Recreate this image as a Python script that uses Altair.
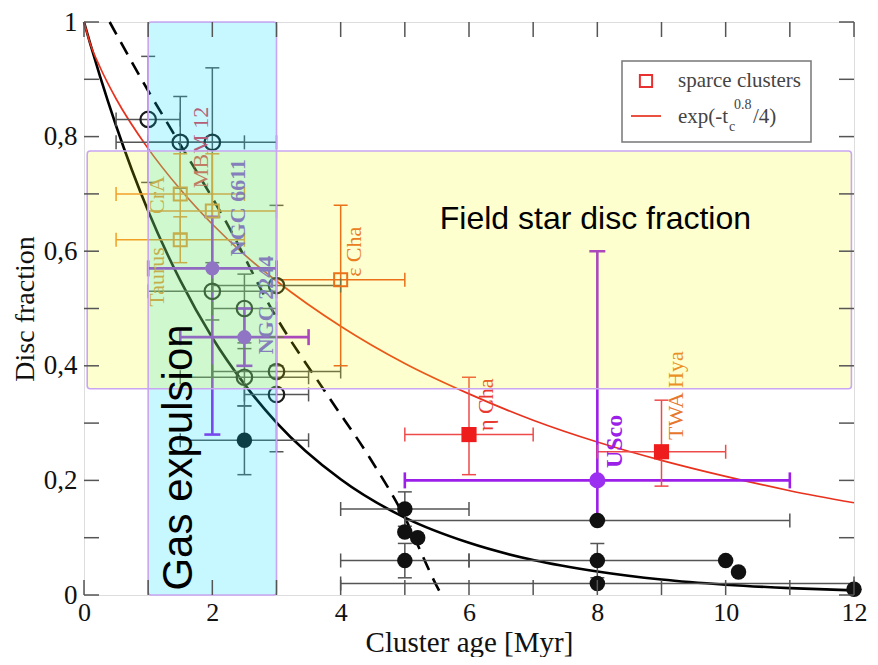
import altair as alt
import pandas as pd

# ---------------- data ----------------
curve_t = [0, 0.1, 0.25, 0.5, 1, 1.5, 2, 2.5, 3, 4, 5, 6, 7, 8, 9, 10, 11, 12]
red_curve = [1.0, 0.961, 0.921, 0.866, 0.779, 0.708, 0.647, 0.594, 0.548, 0.469,
             0.404, 0.351, 0.305, 0.267, 0.235, 0.207, 0.182, 0.161]
black_curve = [1.0, 0.961, 0.905, 0.819, 0.670, 0.549, 0.449, 0.368, 0.301, 0.202,
               0.135, 0.091, 0.061, 0.041, 0.027, 0.018, 0.012, 0.008]
dash_t = [0.4, 1.0, 1.48, 2.2, 2.97, 3.83, 4.45, 5.0, 5.5, 5.57]
dash_f = [1.0, 0.88, 0.79, 0.654, 0.49, 0.343, 0.24, 0.135, 0.015, 0.0]

# open circles (black)
oc_x = [1.0, 1.5, 2.0, 2.0, 2.5, 2.5, 3.0, 3.0, 3.0]
oc_y = [0.83, 0.79, 0.79, 0.53, 0.50, 0.38, 0.54, 0.39, 0.35]
oc_xlo = [0.5, 0.5, 1.0, 1.0, 2.0, 1.5, 2.0, 2.0, 2.5]
oc_xhi = [1.5, 2.5, 3.0, 3.0, 3.0, 3.5, 4.0, 4.0, 3.5]
oc_ylo = [0.72, 0.71, 0.66, 0.48, 0.44, 0.33, 0.40, 0.39, 0.25]
oc_yhi = [0.94, 0.87, 0.92, 0.58, 0.56, 0.43, 0.68, 0.39, 0.45]

# filled circles (black)
fc_x = [2.5, 5.0, 5.0, 5.2, 5.0, 8.0, 8.0, 8.0, 10.0, 10.2, 12.0]
fc_y = [0.27, 0.15, 0.11, 0.10, 0.06, 0.13, 0.06, 0.02, 0.06, 0.04, 0.01]
fc_xlo = [1.5, 4.0, 5.0, 5.2, 4.0, 5.0, 6.0, 4.0, 10.0, 10.2, 12.0]
fc_xhi = [3.5, 6.0, 5.0, 5.2, 6.0, 11.0, 10.0, 12.0, 10.0, 10.2, 12.0]
fc_ylo = [0.21, 0.12, 0.11, 0.10, 0.03, 0.13, 0.03, 0.02, 0.06, 0.04, 0.01]
fc_yhi = [0.33, 0.18, 0.11, 0.10, 0.09, 0.13, 0.09, 0.02, 0.06, 0.04, 0.01]

# purple filled circles (NGC 6611, NGC 2244, USco)
pc_x = [2.0, 2.5, 8.0]
pc_y = [0.57, 0.45, 0.20]
pc_xlo = [1.0, 1.5, 5.0]
pc_xhi = [3.0, 3.5, 11.0]
pc_ylo = [0.28, 0.40, 0.13]
pc_yhi = [0.66, 0.50, 0.60]
pc_size = [200, 200, 260]

# open squares (Taurus, CrA, MBM 12, eps Cha)
os_x = [1.5, 1.5, 2.0, 4.0]
os_y = [0.62, 0.70, 0.67, 0.55]
os_xlo = [0.5, 0.5, 1.0, 3.0]
os_xhi = [2.5, 2.5, 3.0, 5.0]
os_ylo = [0.58, 0.63, 0.57, 0.40]
os_yhi = [0.66, 0.77, 0.77, 0.68]
os_col = ["#f08a30", "#f08a30", "#f08a30", "#e8501e"]

# filled red squares (eta Cha, TWA Hya) - sparse clusters
rs_x = [6.0, 9.0]
rs_y = [0.28, 0.25]
rs_xlo = [5.0, 8.0]
rs_xhi = [7.0, 10.0]
rs_ylo = [0.21, 0.19]
rs_yhi = [0.38, 0.34]

# cluster name labels
lab_text = ["Taurus", "CrA", "MBM 12", "ε Cha", "η Cha", "TWA Hya"]
lab_x = [1.14, 1.14, 1.83, 4.20, 6.27, 9.22]
lab_y = [0.555, 0.698, 0.781, 0.599, 0.332, 0.348]
lab_col = ["#f08a30", "#f08a30", "#e83c55", "#e8602a", "#e83a30", "#e8772e"]
blab_text = ["NGC 6611", "NGC 2244", "USco"]
blab_x = [2.40, 2.83, 8.27]
blab_y = [0.676, 0.506, 0.268]
blab_col = ["#8a3ee0", "#8a3ee0", "#9b1fe8"]
blab_size = [22, 22, 24]

# shaded regions: gas expulsion (cyan) and field star disc fraction (yellow)
reg_x1 = [1.0, 0.05]
reg_x2 = [3.0, 11.96]
reg_y1 = [0.0, 0.36]
reg_y2 = [1.0, 0.775]
reg_col = ["#00dcff", "#f2ff00"]
reg_op = [0.22, 0.19]

x_ticks = list(range(0, 13))
y_ticks = [i / 10 for i in range(0, 11)]

W, H = 770, 573
SERIF = "Liberation Serif"
SANS = "Liberation Sans"

# ---------------- scales/axes ----------------
xs = alt.Scale(domain=[0, 12], nice=False, zero=False)
ys = alt.Scale(domain=[0, 1], nice=False, zero=False)
xaxis = alt.Axis(values=[0, 2, 4, 6, 8, 10, 12], tickSize=0, domain=False, grid=False,
                 labelFont=SERIF, labelFontSize=26, labelColor="#111", labelPadding=4,
                 labelFlush=False, titleFont=SERIF, titleFontSize=29, titleFontWeight="normal",
                 titleColor="#111", titlePadding=3)
yaxis = alt.Axis(values=[0, 0.2, 0.4, 0.6, 0.8, 1.0], tickSize=0, domain=False, grid=False,
                 labelFont=SERIF, labelFontSize=27, labelColor="#111", labelPadding=7,
                 labelFlush=False,
                 labelExpr="datum.value == 0 ? '0' : datum.value == 1 ? '1' : replace(format(datum.value, '.1f'), '.', ',')",
                 titleFont=SERIF, titleFontSize=28, titleFontWeight="normal",
                 titleColor="#111", titlePadding=4)


def X(f):
    return alt.X(f"{f}:Q", scale=xs, axis=xaxis, title="Cluster age [Myr]")


def Y(f):
    return alt.Y(f"{f}:Q", scale=ys, axis=yaxis, title="Disc fraction")


# ---------------- tables ----------------
curves = pd.DataFrame({"t": curve_t, "red": red_curve, "black": black_curve})
dashed = pd.DataFrame({"t": dash_t, "f": dash_f})


def group(xv, yv, xlo, xhi, ylo, yhi, col, w, cap):
    n = len(xv)
    cols = col if isinstance(col, list) else [col] * n
    return pd.DataFrame({"x": xv, "y": yv, "xlo": xlo, "xhi": xhi, "ylo": ylo, "yhi": yhi,
                         "c": cols, "w": [w] * n, "cap": [cap] * n})


bars = pd.concat([
    group(oc_x, oc_y, oc_xlo, oc_xhi, oc_ylo, oc_yhi, "#555555", 1.5, 14),
    group(fc_x, fc_y, fc_xlo, fc_xhi, fc_ylo, fc_yhi, "#555555", 1.5, 14),
    group(os_x, os_y, os_xlo, os_xhi, os_ylo, os_yhi, os_col, 1.5, 14),
    group(rs_x, rs_y, rs_xlo, rs_xhi, rs_ylo, rs_yhi, "#ee4a4a", 1.5, 14),
    group(pc_x, pc_y, pc_xlo, pc_xhi, pc_ylo, pc_yhi, "#9b1fe8", 2.6, 16),
], ignore_index=True)

hb = bars[bars.xlo < bars.xhi]
vb = bars[bars.ylo < bars.yhi]
xcaps = pd.concat([hb.assign(xc=hb.xlo), hb.assign(xc=hb.xhi)], ignore_index=True)
ycaps = pd.concat([vb.assign(yc=vb.ylo), vb.assign(yc=vb.yhi)], ignore_index=True)

open_c = pd.DataFrame({"x": oc_x, "y": oc_y})
fill_c = pd.DataFrame({"x": fc_x, "y": fc_y})
purp_c = pd.DataFrame({"x": pc_x, "y": pc_y, "s": pc_size})
open_s = pd.DataFrame({"x": os_x, "y": os_y, "c": os_col})
red_s = pd.DataFrame({"x": rs_x, "y": rs_y})
labs = pd.DataFrame({"x": lab_x, "y": lab_y, "t": lab_text, "c": lab_col})
blabs = pd.DataFrame({"x": blab_x, "y": blab_y, "t": blab_text, "c": blab_col, "s": blab_size})
regions = pd.DataFrame({"x1": reg_x1, "x2": reg_x2, "y1": reg_y1, "y2": reg_y2,
                        "c": reg_col, "op": reg_op})
big_text = pd.DataFrame({"x": [7.97, 1.48], "y": [0.657, 0.24],
                         "t": ["Field star disc fraction", "Gas expulsion"],
                         "a": [0, 270], "s": [32, 42]})
one = pd.DataFrame({"k": [0]})

layers = []

# curves
layers.append(alt.Chart(curves).mark_line(color="#000000", strokeWidth=2.6, interpolate="monotone")
              .encode(x=X("t"), y=Y("black")))
layers.append(alt.Chart(curves).mark_line(color="#e8321e", strokeWidth=1.7, interpolate="monotone")
              .encode(x=X("t"), y=Y("red")))
layers.append(alt.Chart(dashed).mark_line(color="#000000", strokeWidth=2.6, strokeDash=[14, 9],
                                          interpolate="monotone")
              .encode(x=X("t"), y=Y("f")))

# error bars
layers.append(alt.Chart(hb).mark_rule().encode(
    x=X("xlo"), x2=alt.X2("xhi"), y=Y("y"),
    color=alt.Color("c:N", scale=None), strokeWidth=alt.StrokeWidth("w:Q", scale=None)))
layers.append(alt.Chart(vb).mark_rule().encode(
    x=X("x"), y=Y("ylo"), y2=alt.Y2("yhi"),
    color=alt.Color("c:N", scale=None), strokeWidth=alt.StrokeWidth("w:Q", scale=None)))
for thick, cond in [(1.5, lambda d: d.w < 2), (2.6, lambda d: d.w >= 2)]:
    xc = xcaps[cond(xcaps)]
    yc = ycaps[cond(ycaps)]
    layers.append(alt.Chart(xc).mark_tick(orient="vertical", thickness=thick, opacity=1).encode(
        x=X("xc"), y=Y("y"), color=alt.Color("c:N", scale=None),
        size=alt.Size("cap:Q", scale=None)))
    layers.append(alt.Chart(yc).mark_tick(orient="horizontal", thickness=thick, opacity=1).encode(
        x=X("x"), y=Y("yc"), color=alt.Color("c:N", scale=None),
        size=alt.Size("cap:Q", scale=None)))

# markers
layers.append(alt.Chart(open_c).mark_point(shape="circle", filled=False, size=240, strokeWidth=2.2,
                                           color="#1a1a1a", opacity=1)
              .encode(x=X("x"), y=Y("y")))
layers.append(alt.Chart(fill_c).mark_circle(size=240, color="#111111", opacity=1)
              .encode(x=X("x"), y=Y("y")))
layers.append(alt.Chart(purp_c).mark_circle(color="#9b30f0", opacity=1)
              .encode(x=X("x"), y=Y("y"), size=alt.Size("s:Q", scale=None)))
layers.append(alt.Chart(open_s).mark_point(shape="square", filled=False, size=170, strokeWidth=2,
                                           opacity=1)
              .encode(x=X("x"), y=Y("y"), color=alt.Color("c:N", scale=None)))
layers.append(alt.Chart(red_s).mark_square(size=230, color="#ee1c1c", opacity=1)
              .encode(x=X("x"), y=Y("y")))

# labels
layers.append(alt.Chart(labs).mark_text(angle=270, font=SERIF, fontSize=22, align="center",
                                        baseline="middle")
              .encode(x=X("x"), y=Y("y"), text="t:N", color=alt.Color("c:N", scale=None)))
layers.append(alt.Chart(blabs).mark_text(angle=270, font=SERIF, fontWeight="bold", align="center",
                                         baseline="middle")
              .encode(x=X("x"), y=Y("y"), text="t:N", color=alt.Color("c:N", scale=None),
                      size=alt.Size("s:Q", scale=None)))

# shaded regions (translucent, drawn over the data like the original)
layers.append(alt.Chart(regions).mark_rect(cornerRadius=3).encode(
    x=X("x1"), x2=alt.X2("x2"), y=Y("y1"), y2=alt.Y2("y2"),
    color=alt.Color("c:N", scale=None), opacity=alt.Opacity("op:Q", scale=None)))
layers.append(alt.Chart(regions).mark_rect(cornerRadius=3, fillOpacity=0, stroke="#c9a6f2",
                                           strokeWidth=1.6).encode(
    x=X("x1"), x2=alt.X2("x2"), y=Y("y1"), y2=alt.Y2("y2")))

# big annotations
for i in range(len(big_text)):
    row = big_text.iloc[[i]]
    layers.append(alt.Chart(row).mark_text(font=SANS, angle=int(row.a.iloc[0]),
                                           fontSize=int(row.s.iloc[0]), color="#000000",
                                           align="center", baseline="middle")
                  .encode(x=X("x"), y=Y("y"), text="t:N"))

# legend box
layers.append(alt.Chart(one).mark_rect(fill="#ffffff", stroke="#777777", strokeWidth=1.5).encode(
    x=alt.value(538), x2=alt.value(727), y=alt.value(39), y2=alt.value(120)))
layers.append(alt.Chart(one).mark_point(shape="square", filled=False, size=150, strokeWidth=2,
                                        color="#e83030", opacity=1).encode(
    x=alt.value(562), y=alt.value(59)))
layers.append(alt.Chart(one).mark_rule(color="#e8321e", strokeWidth=1.7).encode(
    x=alt.value(547), x2=alt.value(577), y=alt.value(94)))
leg_items = [("sparce clusters", 594, 59, 21), ("exp(-t", 594, 95, 21), ("c", 645, 105, 14),
             ("0.8", 650, 83, 14), ("/4)", 669, 95, 21)]
for txt, lx, ly, fs in leg_items:
    layers.append(alt.Chart(pd.DataFrame({"t": [txt]})).mark_text(
        font=SERIF, fontSize=fs, color="#444444", align="left", baseline="middle").encode(
        x=alt.value(lx), y=alt.value(ly), text="t:N"))

# inward ticks on all four sides
xt = pd.DataFrame({"v": x_ticks})
yt = pd.DataFrame({"v": y_ticks})
TC = "#555555"
layers.append(alt.Chart(xt).mark_rule(color=TC, strokeWidth=1.5).encode(
    x=X("v"), y=alt.value(H), y2=alt.value(H - 15)))
layers.append(alt.Chart(xt).mark_rule(color=TC, strokeWidth=1.5).encode(
    x=X("v"), y=alt.value(0), y2=alt.value(15)))
layers.append(alt.Chart(yt).mark_rule(color=TC, strokeWidth=1.5).encode(
    y=Y("v"), x=alt.value(0), x2=alt.value(15)))
layers.append(alt.Chart(yt).mark_rule(color=TC, strokeWidth=1.5).encode(
    y=Y("v"), x=alt.value(W), x2=alt.value(W - 15)))

chart = alt.layer(*layers).properties(
    width=W, height=H,
    padding={"left": 76, "top": 14, "right": 16, "bottom": 62},
    autosize=alt.AutoSizeParams(type="none"),
).configure_view(stroke="#444444", strokeWidth=1.6).configure(background="#ffffff")

chart.save("out.html", embed_options={"renderer": "svg", "actions": False})
